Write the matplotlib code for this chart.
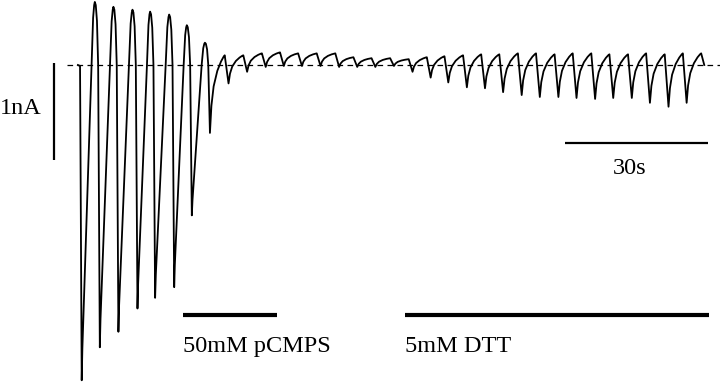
import numpy as np
import matplotlib
matplotlib.use("Agg")
import matplotlib.pyplot as plt

# время минимумов каждого импульса (с) и амплитуды (нА)
pulse_t = [0, 3.8, 7.7, 11.7, 15.4, 19.4, 23.1, 26.9, 30.8, 34.7, 38.6, 42.4,
           46.2, 50.1, 54.0, 57.8, 61.6, 65.5, 69.4, 73.2, 76.9, 80.8, 84.6,
           88.4, 92.3, 96.1, 100.0, 103.8, 107.7, 111.5, 115.4, 119.2, 123.1, 126.9]
trough = [-3.25, -2.91, -2.75, -2.51, -2.40, -2.29, -1.55, -0.70, -0.19, -0.07,
          -0.02, -0.01, -0.01, -0.01, -0.02, -0.02, -0.02, -0.01, -0.07, -0.13,
          -0.18, -0.23, -0.24, -0.28, -0.31, -0.33, -0.33, -0.34, -0.35, -0.34,
          -0.34, -0.39, -0.43, -0.39]
# пик перед каждым минимумом (для первого - базовая линия), последний - после
peak = [0.0, 0.65, 0.60, 0.57, 0.55, 0.52, 0.41, 0.23, 0.10, 0.10, 0.12, 0.13,
        0.12, 0.12, 0.12, 0.08, 0.07, 0.07, 0.06, 0.08, 0.09, 0.10, 0.11, 0.11,
        0.12, 0.12, 0.11, 0.12, 0.12, 0.11, 0.11, 0.12, 0.11, 0.12, 0.12]

drug_labels = ["50mM pCMPS", "5mM DTT"]
drug_on = [21.3, 67.8]
drug_off = [41.0, 131.6]

t_start, t_end = -0.8, 130.6


def trace():
    t = [t_start, -0.35]
    y = [0.0, -0.01]
    n = len(pulse_t)
    for k in range(n):
        t0, lo = pulse_t[k], trough[k]
        t.append(t0)
        y.append(lo)
        nxt = pulse_t[k + 1] if k + 1 < n else t0 + 3.85
        hi = peak[k + 1]
        big = hi > 0.2
        drop = 1.05 if big else 0.8
        t_pk = nxt - drop
        rise = t_pk - t0
        if lo < -1.0:
            # почти линейный подъём до базовой линии, затем скруглённая вершина
            fb = -lo / (hi - lo)
            ft = [0.05, 0.3, 0.55, 0.75, 0.87, 0.95]
            fv = [0.1 * fb, 0.42 * fb, 0.75 * fb, fb,
                  fb + 0.75 * (1 - fb), fb + 0.95 * (1 - fb)]
        else:
            ft = [0.1, 0.25, 0.5, 0.75, 0.92]
            fv = [0.35, 0.6, 0.8, 0.92, 0.98]
        for a, b in zip(ft, fv):
            t.append(t0 + a * rise)
            y.append(lo + b * (hi - lo))
        t.append(t_pk)
        y.append(hi)
        if big:
            t += [t_pk + 0.2, t_pk + 0.45, t_pk + 0.7]
            y += [0.95 * hi, 0.7 * hi, 0.0]
    t.append(t_end)
    y.append(0.0)
    return np.array(t), np.array(y)


def main():
    fig = plt.figure(figsize=(7.2, 3.86), dpi=100)
    ax = fig.add_axes([0, 0, 1, 1])
    ax.set_xlim(-17.14, 133.9)
    ax.set_ylim(-3.309, 0.670)
    ax.axis("off")

    font = dict(family="Liberation Serif", size=17.5, color="black")

    # базовая линия
    ax.plot([-3.1, 134], [0, 0], color="black", lw=0.9, dashes=(4.5, 3.5))

    t, y = trace()
    ax.plot(t, y, color="black", lw=1.3, solid_joinstyle="round")

    # масштабные отрезки
    ax.plot([-5.8, -5.8], [0.02, -0.98], color="black", lw=1.6, solid_capstyle="butt")
    ax.text(-12.7, -0.45, "1nA", ha="center", va="center", **font)
    ax.plot([101.4, 131.4], [-0.80, -0.80], color="black", lw=1.6, solid_capstyle="butt")
    ax.text(115.0, -1.12, "30s", ha="center", va="baseline", **font)

    # аппликация веществ
    for lab, a, b in zip(drug_labels, drug_on, drug_off):
        ax.plot([a, b], [-2.58, -2.58], color="black", lw=3.0, solid_capstyle="butt")
        ax.text(a, -2.96, lab, ha="left", va="baseline", **font)

    fig.savefig("out.png", dpi=100, facecolor="white")


if __name__ == "__main__":
    main()
